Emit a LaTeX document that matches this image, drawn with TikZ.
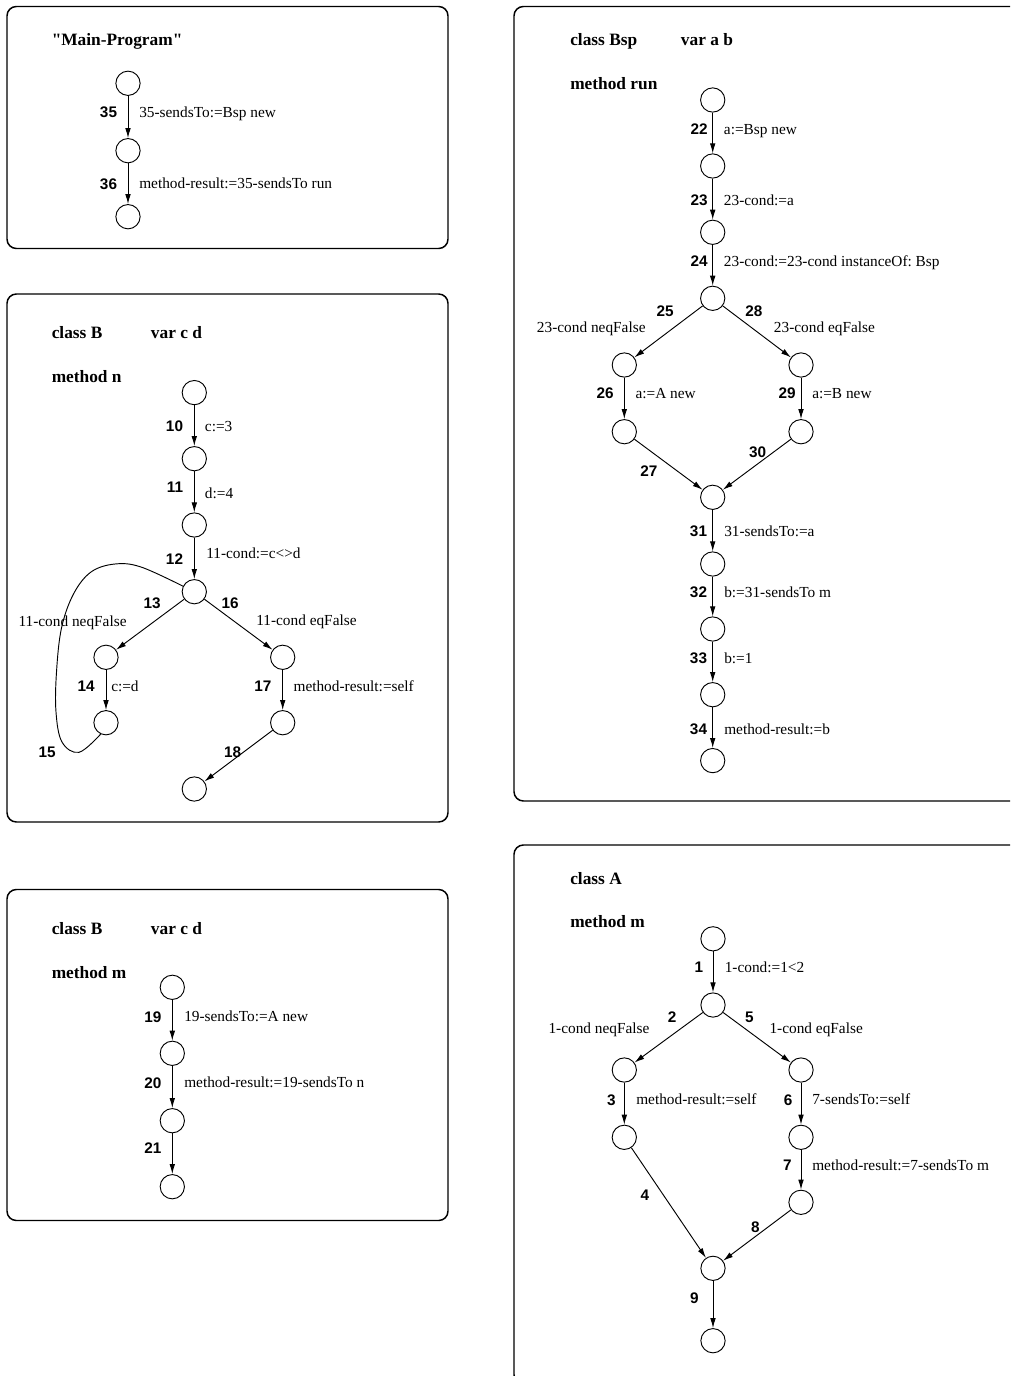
\documentclass[tikz,border=0pt]{standalone}
\usepackage{fontspec}
\setmainfont{Liberation Serif}[Ligatures=TeXOff]
\newfontfamily\labelsans{Liberation Sans}
\usetikzlibrary{arrows.meta}
\frenchspacing
\begin{document}
\begin{tikzpicture}[x=0.75pt,y=-0.75pt,
  state/.style={circle,draw,line width=0.7pt,minimum size=18.2pt,inner sep=0pt},
  flow/.style={line width=0.7pt,-{Latex[length=7.5pt,width=4.2pt]}},
  loopline/.style={line width=0.7pt},
  panel/.style={draw,line width=1.1pt,rounded corners=7pt},
  act/.style={anchor=base west,yshift=-3.8pt,inner sep=0pt,font=\fontsize{11.5pt}{13pt}\selectfont},
  num/.style={anchor=base east,yshift=-4.1pt,inner sep=0pt,font=\labelsans\bfseries\fontsize{11.5pt}{13pt}\selectfont},
  head/.style={anchor=base west,yshift=-4.4pt,inner sep=0pt,font=\bfseries\fontsize{13pt}{15pt}\selectfont}]
\useasboundingbox (0,0) rectangle (1010,1376);
\clip (0,0) rectangle (1010,1376);

% ---------------- "Main-Program" ----------------
\draw[panel] (7,6.5) rectangle (448,248.5);
\node[head] (hmain) at (51.5,40) {"Main-Program"};
\node[state] (p1) at (128,83.3) {};
\node[state] (p2) at (128,150.7) {};
\node[state] (p3) at (128,216.7) {};
\draw[flow] (p1) -- (p2);
\draw[flow] (p2) -- (p3);
\node[num] (l35) at (117.3,112.3) {35};
\node[act] (a35) at (139,112.3) {35-sendsTo:=Bsp new};
\node[num] (l36) at (117.3,183.7) {36};
\node[act] (a36) at (139,183.7) {method-result:=35-sendsTo run};

% ---------------- class B, method n ----------------
\draw[panel] (7,294) rectangle (448,822);
\node[head] (hbn1) at (51.5,333) {class B};
\node[head] (hbn2) at (150.7,333) {var c d};
\node[head] (hbn3) at (51.5,376.8) {method n};
\node[state] (n1) at (194.3,392.6) {};
\node[state] (n2) at (194.3,458.7) {};
\node[state] (n3) at (194.3,525) {};
\node[state] (n4) at (194.3,591.7) {};
\node[state] (n5) at (106,657.3) {};
\node[state] (n6) at (106,722.7) {};
\node[state] (n7) at (282.7,657.3) {};
\node[state] (n8) at (282.7,722.7) {};
\node[state] (n9) at (194.3,789) {};
\draw[flow] (n1) -- (n2);
\draw[flow] (n2) -- (n3);
\draw[flow] (n3) -- (n4);
\draw[flow] (n4) -- (n5);
\draw[flow] (n4) -- (n7);
\draw[flow] (n5) -- (n6);
\draw[flow] (n7) -- (n8);
\draw[flow] (n8) -- (n9);
\draw[loopline] plot[smooth,tension=0.6] coordinates {(n6.245) (79,752.3) (62,742) (56,712) (56.5,672) (61.5,628) (73.5,594) (91,572) (115,564) (141,567) (n4.154)};
\node[num] (l10) at (183.3,426) {10};
\node[act] (a10) at (204.7,426) {c:=3};
\node[num] (l11) at (183.3,487.5) {11};
\node[act] (a11) at (204.7,493) {d:=4};
\node[num] (l12) at (183.3,559) {12};
\node[act] (a12) at (206,553.4) {11-cond:=c<>d};
\node[num] (l13) at (161,603) {13};
\node[num] (l16) at (239,603) {16};
\node[act] (a13) at (18.3,621) {11-cond neqFalse};
\node[act] (a16) at (256,620.5) {11-cond eqFalse};
\node[num] (l14) at (95,686) {14};
\node[act] (a14) at (111,686) {c:=d};
\node[num] (l17) at (271.7,686) {17};
\node[act] (a17) at (293.3,686) {method-result:=self};
\node[num] (l18) at (241.5,752) {18};
\node[num] (l15) at (56,751.7) {15};

% ---------------- class B, method m ----------------
\draw[panel] (7,889.5) rectangle (448,1220.5);
\node[head] (hbm1) at (51.5,928.3) {class B};
\node[head] (hbm2) at (150.7,928.3) {var c d};
\node[head] (hbm3) at (51.5,972.3) {method m};
\node[state] (q1) at (172.3,987.3) {};
\node[state] (q2) at (172.3,1053.3) {};
\node[state] (q3) at (172.3,1120.7) {};
\node[state] (q4) at (172.3,1186.7) {};
\draw[flow] (q1) -- (q2);
\draw[flow] (q2) -- (q3);
\draw[flow] (q3) -- (q4);
\node[num] (l19) at (161.7,1016.7) {19};
\node[act] (a19) at (184,1016.7) {19-sendsTo:=A new};
\node[num] (l20) at (161.7,1082.7) {20};
\node[act] (a20) at (184,1082.7) {method-result:=19-sendsTo n};
\node[num] (l21) at (161.7,1148.3) {21};

% ---------------- class Bsp, method run ----------------
\draw[panel] (514,6.5) rectangle (1030,801);
\node[head] (hbsp1) at (570,39.3) {class Bsp};
\node[head] (hbsp2) at (680.7,39.3) {var a b};
\node[head] (hbsp3) at (570,83.3) {method run};
\node[state] (r1) at (712.7,100) {};
\node[state] (r2) at (712.7,166) {};
\node[state] (r3) at (712.7,232.3) {};
\node[state] (r4) at (712.7,298.3) {};
\node[state] (r5) at (624.3,365) {};
\node[state] (r6) at (624.3,431.7) {};
\node[state] (r7) at (801,365) {};
\node[state] (r8) at (801,431.7) {};
\node[state] (r9) at (712.7,497.3) {};
\node[state] (r10) at (712.7,564) {};
\node[state] (r11) at (712.7,629) {};
\node[state] (r12) at (712.7,694.7) {};
\node[state] (r13) at (712.7,760.6) {};
\draw[flow] (r1) -- (r2);
\draw[flow] (r2) -- (r3);
\draw[flow] (r3) -- (r4);
\draw[flow] (r4) -- (r5);
\draw[flow] (r4) -- (r7);
\draw[flow] (r5) -- (r6);
\draw[flow] (r7) -- (r8);
\draw[flow] (r6) -- (r9);
\draw[flow] (r8) -- (r9);
\draw[flow] (r9) -- (r10);
\draw[flow] (r10) -- (r11);
\draw[flow] (r11) -- (r12);
\draw[flow] (r12) -- (r13);
\node[num] (l22) at (708,129) {22};
\node[act] (a22) at (723.7,129) {a:=Bsp new};
\node[num] (l23) at (708,200) {23};
\node[act] (a23) at (723.7,200) {23-cond:=a};
\node[num] (l24) at (708,261) {24};
\node[act] (a24) at (723.7,261) {23-cond:=23-cond instanceOf: Bsp};
\node[num] (l25) at (674,311) {25};
\node[num] (l28) at (762.7,311) {28};
\node[act] (a25) at (536.7,327) {23-cond neqFalse};
\node[act] (a28) at (773.7,327) {23-cond eqFalse};
\node[num] (l26) at (614,393) {26};
\node[act] (a26) at (635.3,393) {a:=A new};
\node[num] (l29) at (796,393) {29};
\node[act] (a29) at (812,393) {a:=B new};
\node[num] (l27) at (657.7,471) {27};
\node[num] (l30) at (766.5,452.5) {30};
\node[num] (l31) at (707.3,531) {31};
\node[act] (a31) at (724,531) {31-sendsTo:=a};
\node[num] (l32) at (707.3,592) {32};
\node[act] (a32) at (724,592) {b:=31-sendsTo m};
\node[num] (l33) at (707.3,658) {33};
\node[act] (a33) at (724,658) {b:=1};
\node[num] (l34) at (707.3,729) {34};
\node[act] (a34) at (724,729) {method-result:=b};

% ---------------- class A, method m ----------------
\draw[panel] (514,845) rectangle (1030,1384);
\node[head] (ha1) at (570,878.3) {class A};
\node[head] (ha2) at (570,922) {method m};
\node[state] (s1) at (713,938.8) {};
\node[state] (s2) at (713,1005) {};
\node[state] (s3) at (624.3,1070) {};
\node[state] (s4) at (624.3,1137.3) {};
\node[state] (s5) at (801,1070) {};
\node[state] (s6) at (801,1137.3) {};
\node[state] (s7) at (801,1202.3) {};
\node[state] (s8) at (713,1268.3) {};
\node[state] (s9) at (713,1340.7) {};
\draw[flow] (s1) -- (s2);
\draw[flow] (s2) -- (s3);
\draw[flow] (s2) -- (s5);
\draw[flow] (s3) -- (s4);
\draw[flow] (s5) -- (s6);
\draw[flow] (s6) -- (s7);
\draw[flow] (s4) -- (s8);
\draw[flow] (s7) -- (s8);
\draw[flow] (s8) -- (s9);
\node[num] (l1) at (703.3,967) {1};
\node[act] (a1) at (724.5,967) {1-cond:=1<2};
\node[num] (l2) at (676.7,1017) {2};
\node[num] (l5) at (754,1017) {5};
\node[act] (a2) at (548.3,1028) {1-cond neqFalse};
\node[act] (a5) at (769.3,1028) {1-cond eqFalse};
\node[num] (l3) at (616,1099.8) {3};
\node[act] (a3) at (636,1099.8) {method-result:=self};
\node[num] (l6) at (792.7,1099.8) {6};
\node[act] (a6) at (812,1099.8) {7-sendsTo:=self};
\node[num] (l7) at (792,1165) {7};
\node[act] (a7) at (812,1165) {method-result:=7-sendsTo m};
\node[num] (l4) at (649.3,1195) {4};
\node[num] (l8) at (760,1226.7) {8};
\node[num] (l9) at (699,1298.3) {9};
\end{tikzpicture}
\end{document}
